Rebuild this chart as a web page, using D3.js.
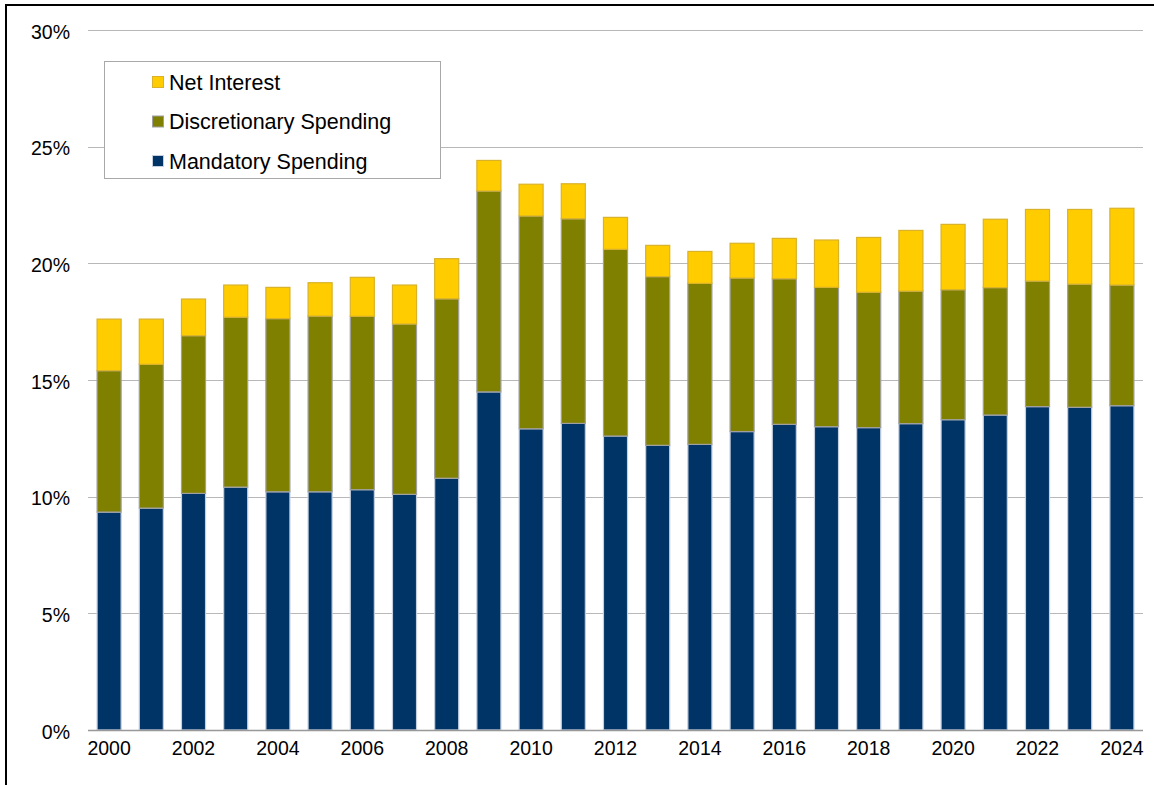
<!DOCTYPE html>
<html>
<head>
<meta charset="utf-8">
<script src="https://cdn.jsdelivr.net/npm/d3@7"></script>
<style>
  html, body { margin: 0; padding: 0; background: #fff; }
  svg { display: block; font-family: "Liberation Sans", Arial, sans-serif; }
</style>
</head>
<body>
<svg id="chart" width="1154" height="785"></svg>
<script>
const years = [2000,2001,2002,2003,2004,2005,2006,2007,2008,2009,2010,2011,2012,2013,2014,2015,2016,2017,2018,2019,2020,2021,2022,2023,2024];
const mandatory = [9.34,9.51,10.14,10.41,10.21,10.21,10.30,10.10,10.79,14.49,12.91,13.14,12.60,12.20,12.24,12.79,13.10,13.00,12.96,13.13,13.30,13.50,13.86,13.83,13.90];
const discretionary = [6.06,6.16,6.76,7.28,7.42,7.53,7.43,7.30,7.69,8.61,9.12,8.77,8.00,7.23,6.90,6.58,6.24,5.97,5.80,5.68,5.57,5.46,5.38,5.28,5.17];
const netInterest = [2.21,1.94,1.57,1.38,1.34,1.43,1.67,1.67,1.72,1.31,1.36,1.50,1.37,1.34,1.37,1.49,1.73,2.03,2.35,2.60,2.80,2.93,3.07,3.20,3.29];
const seriesNames = ["Mandatory Spending","Discretionary Spending","Net Interest"];
const yTicks = [0,5,10,15,20,25,30];
const xTickYears = [2000,2002,2004,2006,2008,2010,2012,2014,2016,2018,2020,2022,2024];

const fills = {"Mandatory Spending":"#003366","Discretionary Spending":"#808000","Net Interest":"#FFCC00"};
const strokes = {"Mandatory Spending":"#c5cfe0","Discretionary Spending":"#a0a0a0","Net Interest":"#d9b22a"};

const svg = d3.select("#chart");
const plot = {left: 88, right: 1143, top: 30, bottom: 730};

// frame
svg.append("rect").attr("x",6).attr("y",5).attr("width",1170).attr("height",800)
  .attr("fill","none").attr("stroke","#000").attr("stroke-width",2);

const x = d3.scaleBand().domain(years).range([plot.left, plot.right]).paddingInner(0.43).paddingOuter(0.215);
const y = d3.scaleLinear().domain([0,30]).range([plot.bottom, plot.top]);

// gridlines
svg.append("g").selectAll("line").data(yTicks.filter(t=>t>0)).join("line")
  .attr("x1",plot.left).attr("x2",plot.right)
  .attr("y1",d=>Math.round(y(d))+0.5).attr("y2",d=>Math.round(y(d))+0.5)
  .attr("stroke","#b8b8b8").attr("stroke-width",1);

// data table
const table = years.map((yr,i)=>({year:yr,"Mandatory Spending":mandatory[i],"Discretionary Spending":discretionary[i],"Net Interest":netInterest[i]}));
const stack = d3.stack().keys(seriesNames)(table);

svg.append("g").selectAll("g").data(stack).join("g")
  .attr("fill",d=>fills[d.key]).attr("stroke",d=>strokes[d.key]).attr("stroke-width",1.2)
  .selectAll("rect").data(d=>d).join("rect")
  .attr("x",d=>x(d.data.year))
  .attr("width",x.bandwidth())
  .attr("y",d=>y(d[1]))
  .attr("height",d=>y(d[0])-y(d[1]));

// bottom axis line
svg.append("line").attr("x1",plot.left).attr("x2",plot.right)
  .attr("y1",plot.bottom+0.5).attr("y2",plot.bottom+0.5)
  .attr("stroke","#999").attr("stroke-width",1.3);

// y axis labels
const yAxis = d3.axisLeft(y).tickValues(yTicks).tickFormat(d=>d+"%").tickSize(0).tickPadding(18);
const yg = svg.append("g").attr("transform",`translate(${plot.left},0)`).call(yAxis);
yg.select(".domain").remove();
yg.selectAll("text").attr("font-size",19.5).attr("fill","#000").attr("dy","0.42em")
  .attr("font-family","Liberation Sans, Arial, sans-serif");

// x axis labels
const xAxis = d3.axisBottom(x).tickValues(xTickYears).tickSize(0).tickPadding(11);
const xg = svg.append("g").attr("transform",`translate(0,${plot.bottom})`).call(xAxis);
xg.select(".domain").remove();
xg.selectAll("text").attr("font-size",19.5).attr("fill","#000")
  .attr("font-family","Liberation Sans, Arial, sans-serif");

// legend
const lg = svg.append("g");
lg.append("rect").attr("x",104.5).attr("y",61.5).attr("width",336).attr("height",117)
  .attr("fill","#fff").attr("stroke","#a8a8a8").attr("stroke-width",1);
const legendOrder = ["Net Interest","Discretionary Spending","Mandatory Spending"];
const li = lg.selectAll("g.item").data(legendOrder).join("g").attr("class","item")
  .attr("transform",(d,i)=>`translate(152,${82 + i*39.5})`);
li.append("rect").attr("x",0.5).attr("y",-5.5).attr("width",11).attr("height",11)
  .attr("fill",d=>fills[d]).attr("stroke",d=>strokes[d]).attr("stroke-width",1);
li.append("text").attr("x",17).attr("y",0).attr("dy","0.36em")
  .attr("font-size",21.5).attr("fill","#000").text(d=>d);
</script>
</body>
</html>
